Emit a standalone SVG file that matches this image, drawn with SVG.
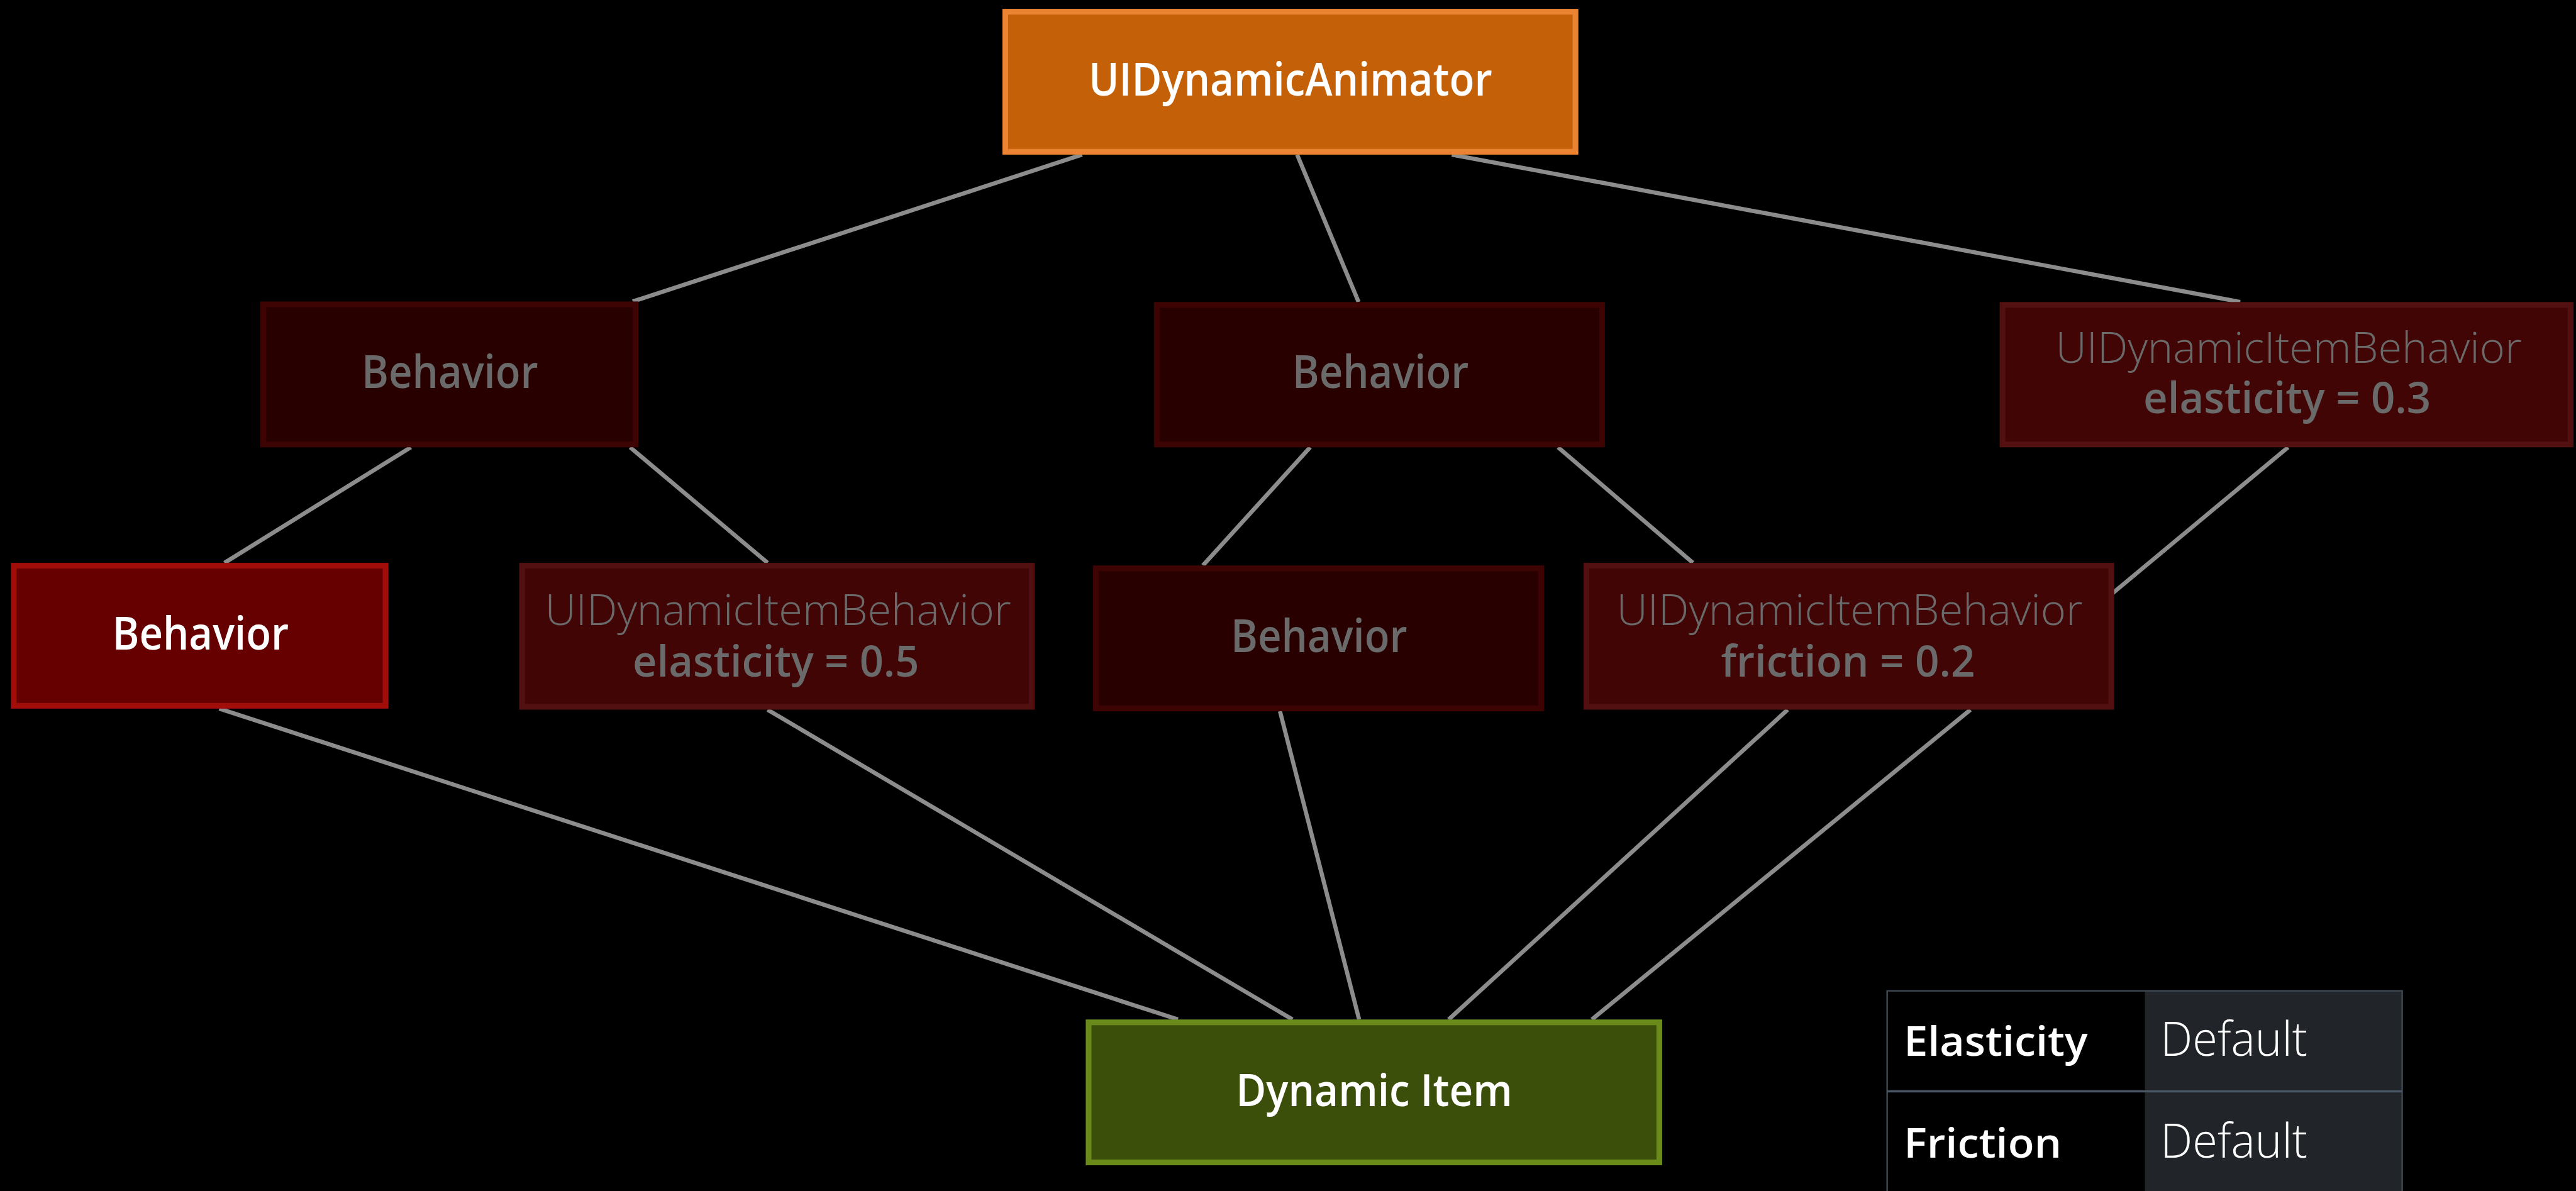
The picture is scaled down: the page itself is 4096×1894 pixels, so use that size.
<svg xmlns="http://www.w3.org/2000/svg" width="4096" height="1894" viewBox="0 0 4096 1894">
<style>
.t{font-family:"Open Sans","Noto Sans","Liberation Sans",sans-serif;text-anchor:middle}
.w{fill:#ffffff}
.g{fill:#6a6a6a}
.m{font-weight:600}
.sb{font-weight:600}
.l{font-weight:300}
.c line{stroke:#8c8c8c;stroke-width:8;stroke-linecap:butt}
.dark rect{fill:#290000;stroke:#3e0404;stroke-width:11}
.uid rect{fill:#420505;stroke:#531010;stroke-width:11}
</style>
<rect x="0" y="0" width="4096" height="1894" fill="#000000"/>
<g transform="scale(0.828)">
<g id="connectors" class="c">
<line x1="2078" y1="297" x2="1215" y2="579"/>
<line x1="2491" y1="297" x2="2609" y2="580"/>
<line x1="2788" y1="297" x2="4302" y2="580"/>
<line x1="789" y1="859" x2="431" y2="1081"/>
<line x1="1210" y1="859" x2="1474" y2="1081"/>
<line x1="2516" y1="859" x2="2310" y2="1086"/>
<line x1="2992" y1="859" x2="3251" y2="1081"/>
<line x1="4394" y1="859" x2="4055" y2="1141"/>
<line x1="421" y1="1361" x2="2262" y2="1958"/>
<line x1="1474" y1="1363" x2="2482" y2="1958"/>
<line x1="2458" y1="1366" x2="2610" y2="1958"/>
<line x1="3433" y1="1363" x2="2782" y2="1958"/>
<line x1="3784" y1="1363" x2="3057" y2="1958"/>
</g>
<g id="animator">
<rect x="1930.5" y="22.5" width="1095" height="269" fill="#c46108" stroke="#eb8432" stroke-width="11"/>
<text class="t w m" x="2478" y="183" font-size="88" textLength="775" lengthAdjust="spacingAndGlyphs">UIDynamicAnimator</text>
</g>
<g id="behavior1" class="dark">
<rect x="505.5" y="584.5" width="715" height="269"/>
<text class="t g m" x="864" y="745" font-size="87" textLength="339" lengthAdjust="spacingAndGlyphs">Behavior</text>
</g>
<g id="behavior2" class="dark">
<rect x="2221.5" y="585.5" width="855" height="268"/>
<text class="t g m" x="2651" y="745" font-size="87" textLength="339" lengthAdjust="spacingAndGlyphs">Behavior</text>
</g>
<g id="itembehavior03" class="uid">
<rect x="3845.5" y="585.5" width="1091" height="268"/>
<text class="t g"><tspan class="l" x="4395" y="697" font-size="82" textLength="895" lengthAdjust="spacingAndGlyphs">UIDynamicItemBehavior</tspan><tspan class="sb" x="4392" y="793" font-size="84" textLength="552" lengthAdjust="spacingAndGlyphs">elasticity = 0.3</tspan></text>
</g>
<g id="behaviorActive">
<rect x="26.5" y="1086.5" width="714" height="269" fill="#660000" stroke="#a10e0a" stroke-width="11"/>
<text class="t w m" x="385" y="1247" font-size="87" textLength="339" lengthAdjust="spacingAndGlyphs">Behavior</text>
</g>
<g id="itembehavior05" class="uid">
<rect x="1002.5" y="1086.5" width="979" height="271"/>
<text class="t g"><tspan class="l" x="1494" y="1201" font-size="82" textLength="895" lengthAdjust="spacingAndGlyphs">UIDynamicItemBehavior</tspan><tspan class="sb" x="1490" y="1299" font-size="84" textLength="550" lengthAdjust="spacingAndGlyphs">elasticity = 0.5</tspan></text>
</g>
<g id="behavior3" class="dark">
<rect x="2104.5" y="1091.5" width="855" height="269"/>
<text class="t g m" x="2533" y="1252" font-size="87" textLength="339" lengthAdjust="spacingAndGlyphs">Behavior</text>
</g>
<g id="itembehavior02" class="uid">
<rect x="3046.5" y="1086.5" width="1008" height="271"/>
<text class="t g"><tspan class="l" x="3552" y="1201" font-size="82" textLength="895" lengthAdjust="spacingAndGlyphs">UIDynamicItemBehavior</tspan><tspan class="sb" x="3549" y="1299" font-size="84" textLength="488" lengthAdjust="spacingAndGlyphs">friction = 0.2</tspan></text>
</g>
<g id="dynamicItem">
<rect x="2090.5" y="1963.5" width="1096" height="269" fill="#3b4f0b" stroke="#6a8a1c" stroke-width="11"/>
<text class="t w sb" x="2639" y="2124" font-size="86" textLength="531" lengthAdjust="spacingAndGlyphs">Dynamic Item</text>
</g>
<g id="propertyTable">
<rect x="3623" y="1902" width="496" height="400" fill="#000000"/>
<rect x="4119" y="1902" width="495" height="400" fill="#212529"/>
<rect x="3624" y="1903" width="989" height="400" fill="none" stroke="#3c4650" stroke-width="3"/>
<line x1="3624" y1="2096" x2="4613" y2="2096" stroke="#4a5663" stroke-width="4"/>
<text class="t w sb" style="text-anchor:start" x="3656" y="2028" font-size="78" textLength="353" lengthAdjust="spacingAndGlyphs">Elasticity</text>
<text class="t w l" style="text-anchor:start" x="4149" y="2028" font-size="91" textLength="282" lengthAdjust="spacingAndGlyphs">Default</text>
<text class="t w sb" style="text-anchor:start" x="3656" y="2223" font-size="78" textLength="303" lengthAdjust="spacingAndGlyphs">Friction</text>
<text class="t w l" style="text-anchor:start" x="4149" y="2223" font-size="91" textLength="282" lengthAdjust="spacingAndGlyphs">Default</text>
</g>
</g>
</svg>
